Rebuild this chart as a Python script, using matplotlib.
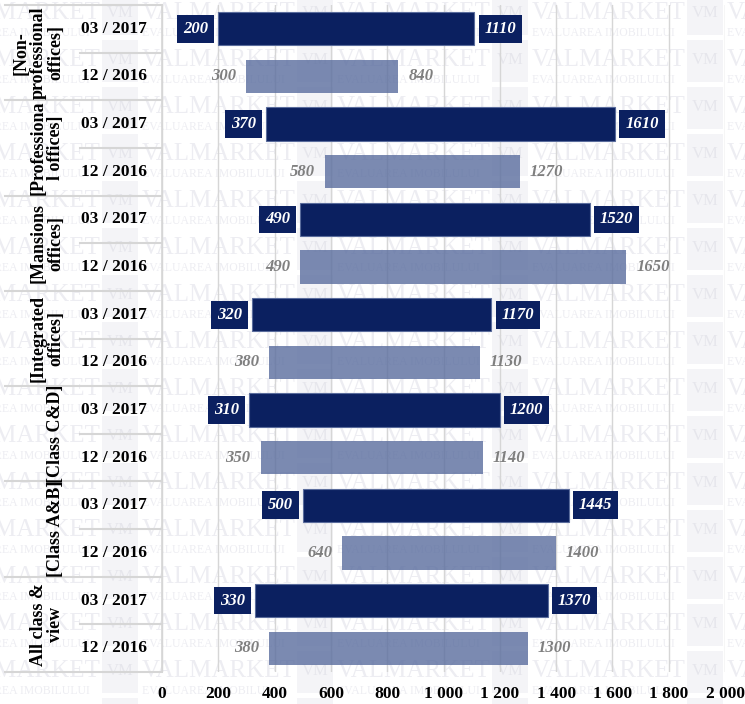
import matplotlib
matplotlib.use("Agg")
import matplotlib.pyplot as plt
import matplotlib.transforms as mtransforms
from matplotlib.patches import Rectangle
from matplotlib.ticker import FuncFormatter

# data
groups = ["[Non-\nprofessional\noffices]", "[Professiona\nl offices]", "[Mansions\noffices]",
          "[Integrated\noffices]", "[Class C&D]", "[Class A&B]", "All class &\nview"]
periods = ["03 / 2017", "12 / 2016"]
start_2017 = [200, 370, 490, 320, 310, 500, 330]
end_2017 = [1110, 1610, 1520, 1170, 1200, 1445, 1370]
start_2016 = [300, 580, 490, 380, 350, 640, 380]
end_2016 = [840, 1270, 1650, 1130, 1140, 1400, 1300]
x_ticks = [0, 200, 400, 600, 800, 1000, 1200, 1400, 1600, 1800, 2000]

DARK = "#0b2060"
LIGHT = "#5a6d9e"
LINE = "#d6d6d6"
SERIF = ["Liberation Serif", "DejaVu Serif"]
W, H = 745, 704

fig = plt.figure(figsize=(W / 100, H / 100), dpi=100)
fig.patch.set_facecolor("white")

# faint tiled watermark, kept behind the axes
for r in range(16):
    yc = 13 + 47 * r
    for c in range(-1, 4):
        x0 = 102 + 195 * c
        fig.patches.append(Rectangle((x0 / W, 1 - (yc + 22) / H), 36 / W, 42 / H,
                                     transform=fig.transFigure, facecolor="#f4f4f7",
                                     edgecolor="none", zorder=-10))
        fig.text((x0 + 18) / W, 1 - yc / H, "VM", color="#e6e6ec", fontsize=12,
                 family=SERIF, ha="center", va="center", zorder=-9)
        fig.text((x0 + 40) / W, 1 - yc / H, "VALMARKET", color="#ededf2", fontsize=18,
                 family=SERIF, ha="left", va="center", zorder=-9)
        fig.text((x0 + 40) / W, 1 - (yc + 20) / H, "EVALUAREA IMOBILULUI", color="#ededf2",
                 fontsize=8.5, family=SERIF, ha="left", va="center", zorder=-9)

ax = fig.add_axes([162 / W, 1 - 672 / H, (725 - 162) / W, (672 - 5) / H])
ax.set_facecolor("none")

n = len(groups)
y17 = [2 * i + 0.5 for i in range(n)]
y16 = [2 * i + 1.5 for i in range(n)]

ax.barh(y17, [e - s for s, e in zip(start_2017, end_2017)], left=start_2017, height=0.7,
        color=DARK, edgecolor="#5a6c9c", linewidth=0.8, zorder=3)
ax.barh(y16, [e - s for s, e in zip(start_2016, end_2016)], left=start_2016, height=0.7,
        color=LIGHT, alpha=0.8, edgecolor="none", zorder=3)

box = dict(boxstyle="square,pad=0.35", facecolor=DARK, edgecolor="none")
for y, s, e in zip(y17, start_2017, end_2017):
    ax.annotate(str(s), (s, y), xytext=(-10, 0), textcoords="offset pixels", ha="right",
                va="center", color="white", fontsize=12, fontweight="bold", fontstyle="italic",
                family=SERIF, bbox=box, zorder=4)
    ax.annotate(str(e), (e, y), xytext=(10, 0), textcoords="offset pixels", ha="left",
                va="center", color="white", fontsize=12, fontweight="bold", fontstyle="italic",
                family=SERIF, bbox=box, zorder=4)
for y, s, e in zip(y16, start_2016, end_2016):
    ax.annotate(str(s), (s, y), xytext=(-10, 0), textcoords="offset pixels", ha="right",
                va="center", color="#7f7f7f", fontsize=12, fontweight="bold", fontstyle="italic",
                family=SERIF, zorder=4)
    ax.annotate(str(e), (e, y), xytext=(10, 0), textcoords="offset pixels", ha="left",
                va="center", color="#7f7f7f", fontsize=12, fontweight="bold", fontstyle="italic",
                family=SERIF, zorder=4)

ax.set_xlim(0, 2000)
ax.set_ylim(2 * n, 0)
ax.set_xticks(x_ticks)
ax.xaxis.set_major_formatter(FuncFormatter(lambda v, p: f"{int(v):,}".replace(",", " ")))
ax.set_yticks([])
ax.tick_params(axis="x", length=0, pad=10)
for lbl in ax.get_xticklabels():
    lbl.set_fontfamily(SERIF)
    lbl.set_fontweight("bold")
    lbl.set_fontsize(12.5)
ax.grid(axis="x", color=LINE, linewidth=1, zorder=1)
ax.set_axisbelow(True)
for side in ["top", "right", "bottom"]:
    ax.spines[side].set_visible(False)
ax.spines["left"].set_color(LINE)
ax.spines["left"].set_linewidth(1.2)

# left table: category and period labels with separator lines
blend = mtransforms.blended_transform_factory(fig.transFigure, ax.transData)
for i in range(n + 1):
    ax.plot([5 / W, 162 / W], [2 * i, 2 * i], color=LINE, linewidth=1.5,
            transform=blend, clip_on=False)
for i in range(n):
    ax.plot([80 / W, 162 / W], [2 * i + 1, 2 * i + 1], color=LINE, linewidth=1.5,
            transform=blend, clip_on=False)
    ax.text(64 / W, 2 * i + 1, groups[i], transform=blend, rotation=90, ha="right",
            va="center", multialignment="center", linespacing=1.0, fontsize=13,
            fontweight="bold", family=SERIF)
    for y, p in zip([y17[i], y16[i]], periods):
        ax.text(114 / W, y, p, transform=blend, ha="center", va="center", fontsize=12.5,
                fontweight="bold", family=SERIF)

fig.savefig("out.png", dpi=100)
